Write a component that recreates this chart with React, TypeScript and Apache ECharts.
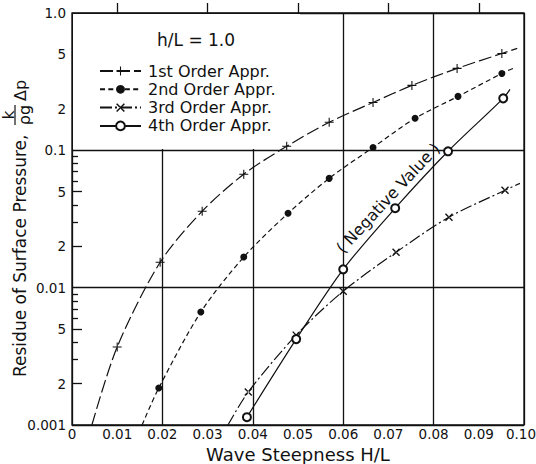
import { useEffect, useRef } from "react";
import * as echarts from "echarts";

// Axis ticks and labels
const X_LABELS = [0, 0.01, 0.02, 0.03, 0.04, 0.05, 0.06, 0.07, 0.08, 0.09, 0.1];
const X_ODD_TICKS = [0.01, 0.03, 0.05, 0.07, 0.09];
const Y_LABEL_VALUES = [0.001, 0.002, 0.005, 0.01, 0.02, 0.05, 0.1, 0.2, 0.5, 1];
const Y_LABEL_TEXTS = ["0.001", "2", "5", "0.01", "2", "5", "0.1", "2", "5", "1.0"];
const Y_MAJOR_TICKS = [0.002, 0.005, 0.02, 0.05, 0.2, 0.5];
const Y_MINOR_TICKS = [
  0.003, 0.004, 0.006, 0.007, 0.008, 0.009,
  0.03, 0.04, 0.06, 0.07, 0.08, 0.09,
  0.3, 0.4, 0.6, 0.7, 0.8, 0.9,
];

const SERIES_NAMES = [
  "1st Order Appr.",
  "2nd Order Appr.",
  "3rd Order Appr.",
  "4th Order Appr.",
];

// Computed points (H/L, residue) for each order of approximation
const FIRST_ORDER = [
  [0.01, 0.0037], [0.0195, 0.0153], [0.0288, 0.036], [0.038, 0.067],
  [0.0475, 0.107], [0.0569, 0.16], [0.0666, 0.223], [0.0752, 0.297],
  [0.0852, 0.395], [0.0951, 0.507],
];
const SECOND_ORDER = [
  [0.0192, 0.00186], [0.0285, 0.00664], [0.038, 0.0167], [0.0478, 0.0348],
  [0.0569, 0.0625], [0.0666, 0.105], [0.0759, 0.171], [0.0854, 0.247],
  [0.0951, 0.363],
];
const THIRD_ORDER = [
  [0.039, 0.00174], [0.0496, 0.00451], [0.06, 0.00943], [0.0717, 0.0181],
  [0.0834, 0.0326], [0.0958, 0.0512],
];
const FOURTH_ORDER = [
  [0.0387, 0.00114], [0.0496, 0.00422], [0.06, 0.0136], [0.0715, 0.0379],
  [0.0832, 0.0984], [0.0954, 0.239],
];

// Where each drawn curve enters and leaves the frame
const FIRST_ENDS = [[0.0044, 0.001], [0.0985, 0.552]];
const SECOND_ENDS = [[0.0155, 0.001], [0.0976, 0.395]];
const THIRD_ENDS = [[0.0345, 0.001], [0.0991, 0.0575]];
const FOURTH_ENDS = [null, [0.0969, 0.278]];

const INK = "#111";
const FONT = "DejaVu Sans";

const PLUS_PATH = "path://M4.4,0h1.2v10h-1.2zM0,4.4h10v1.2h-10z";
const CROSS_PATH = "path://M0,1.2L1.2,0L10,8.8L8.8,10ZM8.8,0L0,8.8L1.2,10L10,1.2Z";

const lg = (v: number) => Math.max(-3, Math.min(0, Math.log10(v)));

function curve(points: number[][], ends: (number[] | null)[]) {
  const data: any[] = points.map((p) => ({ value: p }));
  if (ends[0]) data.unshift({ value: ends[0], symbol: "none" });
  if (ends[1]) data.push({ value: ends[1], symbol: "none" });
  return data;
}

export default function App() {
  const ref = useRef<HTMLDivElement>(null);

  useEffect(() => {
    if (!ref.current) return;
    const chart = echarts.init(ref.current, null, { renderer: "svg" });

    const yLabelLogs = Y_LABEL_VALUES.map(lg);
    const gridLine = { color: INK, width: 1.3 };
    const lineBase = { color: INK, width: 1.2 };
    const xMax = X_LABELS[X_LABELS.length - 1];

    const option: any = {
      animation: false,
      backgroundColor: "#fff",
      grid: {
        left: 72,
        right: 12,
        top: 13,
        bottom: 39,
        show: true,
        borderColor: INK,
        borderWidth: 1.3,
        backgroundColor: "transparent",
        outerBoundsMode: "none",
      },
      legend: {
        orient: "vertical",
        left: 99,
        top: 62,
        padding: 0,
        itemWidth: 41,
        itemHeight: 11,
        itemGap: 0.3,
        data: SERIES_NAMES,
        textStyle: {
          color: INK,
          fontSize: 16,
          fontFamily: FONT,
          lineHeight: 18,
          padding: [0, 0, 0, 2],
        },
        selectedMode: false,
      },
      xAxis: [
        {
          type: "value",
          min: 0,
          max: 0.1,
          interval: 0.02,
          position: "bottom",
          axisLine: { show: false },
          splitLine: { show: false },
          axisTick: {
            show: true,
            inside: true,
            length: 10,
            customValues: X_ODD_TICKS,
            lineStyle: gridLine,
          },
          axisLabel: {
            customValues: X_LABELS,
            margin: 2,
            color: INK,
            fontSize: 13.5,
            fontFamily: FONT,
            formatter: (v: number) =>
              v === 0 ? "0" : v === xMax ? "{e|" + v.toFixed(2) + "}" : v.toFixed(2),
            rich: {
              e: {
                color: INK,
                fontSize: 13.5,
                fontFamily: FONT,
                padding: [0, 6, 0, 0],
              },
            },
          },
          name: "Wave Steepness H/L",
          nameLocation: "middle",
          nameGap: 16,
          nameTextStyle: { color: INK, fontSize: 18, fontFamily: FONT },
        },
        {
          type: "value",
          min: 0,
          max: 0.1,
          interval: 0.02,
          position: "bottom",
          axisLine: { show: false },
          axisTick: { show: false },
          axisLabel: { show: false },
          splitLine: { show: true, lineStyle: gridLine },
        },
      ],
      yAxis: [
        {
          type: "log",
          logBase: 10,
          min: 0.001,
          max: 1,
          position: "left",
          axisLine: { show: false },
          axisTick: { show: false },
          axisLabel: { show: false },
          splitLine: { show: true, lineStyle: gridLine },
        },
        {
          type: "value",
          min: -3,
          max: 0,
          position: "left",
          axisLine: { show: false },
          splitLine: { show: false },
          axisTick: {
            show: true,
            inside: true,
            length: 10,
            customValues: Y_MAJOR_TICKS.map(lg),
            lineStyle: gridLine,
          },
          axisLabel: {
            customValues: yLabelLogs,
            margin: 6,
            color: INK,
            fontSize: 13.5,
            fontFamily: FONT,
            formatter: (v: number) => {
              const i = yLabelLogs.findIndex((l) => Math.abs(l - v) < 1e-6);
              return i >= 0 ? Y_LABEL_TEXTS[i] : "";
            },
          },
        },
        {
          type: "value",
          min: -3,
          max: 0,
          position: "left",
          axisLine: { show: false },
          splitLine: { show: false },
          axisLabel: { show: false },
          axisTick: {
            show: true,
            inside: true,
            length: 6,
            customValues: Y_MINOR_TICKS.map(lg),
            lineStyle: gridLine,
          },
        },
      ],
      series: [
        {
          name: SERIES_NAMES[0],
          type: "line",
          smooth: 0.3,
          symbol: PLUS_PATH,
          symbolSize: 9,
          itemStyle: { color: INK, borderWidth: 0 },
          lineStyle: { ...lineBase, type: [13, 4] },
          data: curve(FIRST_ORDER, FIRST_ENDS),
        },
        {
          name: SERIES_NAMES[1],
          type: "line",
          smooth: 0.3,
          symbol: "circle",
          symbolSize: 7,
          itemStyle: { color: INK, borderWidth: 0 },
          lineStyle: { ...lineBase, type: [5, 3.3] },
          data: curve(SECOND_ORDER, SECOND_ENDS),
        },
        {
          name: SERIES_NAMES[2],
          type: "line",
          smooth: 0.3,
          symbol: CROSS_PATH,
          symbolSize: 8,
          itemStyle: { color: INK, borderWidth: 0 },
          lineStyle: { ...lineBase, type: [12, 3, 2, 3] },
          data: curve(THIRD_ORDER, THIRD_ENDS),
        },
        {
          name: SERIES_NAMES[3],
          type: "line",
          smooth: 0.3,
          symbol: "emptyCircle",
          symbolSize: 8,
          itemStyle: { color: INK, borderWidth: 1.2 },
          lineStyle: { ...lineBase, type: "solid" },
          data: curve(FOURTH_ORDER, FOURTH_ENDS),
        },
      ],
      graphic: [
        {
          type: "rect",
          z: 1,
          silent: true,
          shape: { x: 73, y: 14, width: 227, height: 135 },
          style: { fill: "#fff" },
        },
        {
          type: "text",
          z: 5,
          x: 157,
          y: 40,
          style: {
            text: "h/L = 1.0",
            fill: INK,
            fontSize: 17,
            fontFamily: FONT,
            verticalAlign: "middle",
          },
        },
        {
          type: "text",
          z: 5,
          x: 388,
          y: 198,
          rotation: (47 * Math.PI) / 180,
          style: {
            text: "( Negative Value )",
            fill: INK,
            fontSize: 16,
            fontFamily: FONT,
            align: "center",
            verticalAlign: "middle",
          },
        },
        {
          type: "group",
          x: 20,
          y: 377,
          rotation: Math.PI / 2,
          children: [
            {
              type: "text",
              x: 0,
              y: 0,
              style: {
                text: "Residue of Surface Pressure,",
                fill: INK,
                fontSize: 17,
                fontFamily: FONT,
                align: "left",
                verticalAlign: "middle",
              },
            },
            {
              type: "line",
              shape: { x1: 252, y1: -5, x2: 272, y2: -5 },
              style: { stroke: INK, lineWidth: 1.2 },
            },
            {
              type: "text",
              x: 262,
              y: -11,
              style: {
                text: "k",
                fill: INK,
                fontSize: 15,
                lineHeight: 15,
                fontFamily: FONT,
                align: "center",
                verticalAlign: "middle",
              },
            },
            {
              type: "text",
              x: 262,
              y: 4,
              style: {
                text: "ρg",
                fill: INK,
                fontSize: 16,
                fontFamily: FONT,
                align: "center",
                verticalAlign: "middle",
              },
            },
            {
              type: "text",
              x: 276,
              y: 0,
              style: {
                text: "Δp",
                fill: INK,
                fontSize: 16,
                fontFamily: FONT,
                align: "left",
                verticalAlign: "middle",
              },
            },
          ],
        },
      ],
    };

    chart.setOption(option);
    return () => chart.dispose();
  }, []);

  return (
    <div
      ref={ref}
      style={{
        position: "absolute",
        left: 0,
        top: 0,
        width: 536,
        height: 464,
        background: "#fff",
      }}
    />
  );
}
